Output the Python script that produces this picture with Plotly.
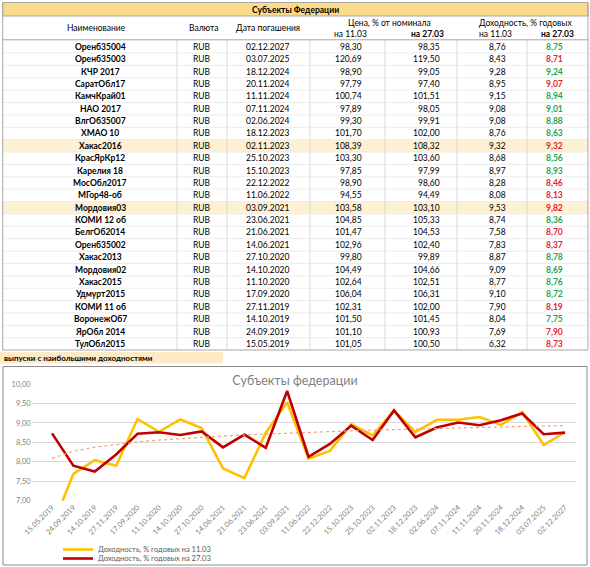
import numpy as np
import plotly.graph_objects as go

# ---------------- data ----------------
names = ["Оренб35004", "Оренб35003", "КЧР 2017", "СаратОбл17", "КамчКрай01", "НАО 2017",
         "ВлгОб35007", "ХМАО 10", "Хакас2016", "КрасЯрКр12", "Карелия 18", "МосОбл2017",
         "МГор48-об", "Мордовия03", "КОМИ 12 об", "БелгОб2014", "Оренб35002", "Хакас2013",
         "Мордовия02", "Хакас2015", "Удмурт2015", "КОМИ 11 об", "ВоронежОб7", "ЯрОбл 2014",
         "ТулОбл2015"]
currency = ["RUB"] * 25
maturity = ["02.12.2027", "03.07.2025", "18.12.2024", "20.11.2024", "11.11.2024", "07.11.2024",
            "02.06.2024", "18.12.2023", "02.11.2023", "25.10.2023", "15.10.2023", "22.12.2022",
            "11.06.2022", "03.09.2021", "23.06.2021", "21.06.2021", "14.06.2021", "27.10.2020",
            "14.10.2020", "11.10.2020", "17.09.2020", "27.11.2019", "14.10.2019", "24.09.2019",
            "15.05.2019"]
price_1103 = [98.30, 120.69, 98.90, 97.79, 100.74, 97.89, 99.30, 101.70, 108.39, 103.30, 97.85,
              98.90, 94.55, 103.58, 104.85, 101.47, 102.96, 99.80, 104.49, 102.64, 106.04,
              102.31, 101.50, 101.10, 101.05]
price_2703 = [98.35, 119.50, 99.05, 97.40, 101.51, 98.05, 99.91, 102.00, 108.32, 103.60, 97.99,
              98.60, 94.49, 103.10, 105.33, 104.53, 102.40, 99.89, 104.66, 102.51, 106.31,
              102.00, 101.45, 100.93, 100.50]
yield_1103 = [8.76, 8.43, 9.28, 8.95, 9.15, 9.08, 9.08, 8.76, 9.32, 8.68, 8.97, 8.28, 8.08, 9.53,
              8.74, 7.58, 7.83, 8.87, 9.09, 8.77, 9.10, 7.90, 8.04, 7.69, 6.32]
yield_2703 = [8.75, 8.71, 9.24, 9.07, 8.94, 9.01, 8.88, 8.63, 9.32, 8.56, 8.93, 8.46, 8.13, 9.82,
              8.36, 8.70, 8.37, 8.78, 8.69, 8.76, 8.72, 8.19, 7.75, 7.90, 8.73]
highlighted = ["Хакас2016", "Мордовия03"]

W, H = 590, 567
FONT = "Lato"


def px(x):
    return x / W


def py(y):
    return 1 - y / H


def fmt(v):
    return f"{v:.2f}".replace(".", ",")


fig = go.Figure()

# ---------------- chart ----------------
cats = maturity[::-1]
y11 = yield_1103[::-1]
y27 = yield_2703[::-1]

fig.add_trace(go.Scatter(x=cats, y=y11, mode="lines", name="Доходность, % годовых на 11.03",
                         line=dict(color="#FFC000", width=2.6), legend="legend"))
fig.add_trace(go.Scatter(x=cats, y=y27, mode="lines", name="Доходность, % годовых на 27.03",
                         line=dict(color="#C00000", width=2.6), legend="legend2"))
# logarithmic trendline of the 27.03 series (as in Excel)
idx = np.arange(1, len(y27) + 1)
b, a = np.polyfit(np.log(idx), np.array(y27), 1)
trend = a + b * np.log(idx)
fig.add_trace(go.Scatter(x=cats, y=trend, mode="lines", showlegend=False, hoverinfo="skip",
                         line=dict(color="#F0A27C", width=1.2, dash="dot")))

leg_common = dict(xanchor="left", yanchor="middle", orientation="v",
                  font=dict(size=7.5, color="#595959", family=FONT), bgcolor="rgba(0,0,0,0)",
                  itemwidth=30, borderwidth=0)

fig.update_layout(
    width=W, height=H, margin=dict(l=0, r=0, t=0, b=0, autoexpand=False),
    paper_bgcolor="white", plot_bgcolor="white",
    separators=", ", hovermode=False,
    font=dict(family=FONT, color="#595959"),
    title=dict(text="Субъекты федерации", x=0.5, xanchor="center", xref="paper",
               y=1 - 381 / H, yref="container", yanchor="middle",
               font=dict(size=12.5, color="#7f7f7f", family=FONT)),
    xaxis=dict(domain=[px(31.7), px(575.7)], range=[-0.95, 24.5], type="category",
               tickangle=-45, tickfont=dict(size=7.5, color="#7f7f7f"),
               showgrid=False, showline=False, ticks="", anchor="y"),
    yaxis=dict(domain=[py(500.7), py(384)], range=[7, 10], dtick=0.5, tickformat=".2f",
               showgrid=True, gridcolor="#d9d9d9", gridwidth=1, zeroline=False,
               tickfont=dict(size=7.5, color="#7f7f7f"), ticks="", showline=False),
    legend=dict(x=px(58), y=py(549.5), **leg_common),
    legend2=dict(x=px(58), y=py(558.5), **leg_common),
)

shapes = []
ann = []


def text(x, y, s, size=8.5, bold=False, color="#000000", anchor="center"):
    ann.append(dict(x=px(x), y=py(y), xref="paper", yref="paper", text=(f"<b>{s}</b>" if bold else s),
                    showarrow=False, xanchor=anchor, yanchor="middle", borderpad=0,
                    font=dict(family=FONT, size=size, color=color)))


def rect(x0, y0, x1, y1, fill, line=None, lw=1):
    shapes.append(dict(type="rect", xref="paper", yref="paper", x0=px(x0), x1=px(x1), y0=py(y1), y1=py(y0),
                       fillcolor=fill, line=dict(color=line or fill, width=lw if line else 0), layer="below"))


def hline(x0, x1, y, color, w=1):
    shapes.append(dict(type="line", xref="paper", yref="paper", x0=px(x0), x1=px(x1), y0=py(y), y1=py(y),
                       line=dict(color=color, width=w), layer="below"))


def vline(x, y0, y1, color, w=1):
    shapes.append(dict(type="line", xref="paper", yref="paper", x0=px(x), x1=px(x), y0=py(y0), y1=py(y1),
                       line=dict(color=color, width=w), layer="below"))


# ---------------- table ----------------
ROW0, RH = 46.8, 12.38
TL, TR = 2.7, 588

rect(TL, 2.5, TR, 16, "#FADB8C", "#A6A6A6", 1)
text(295, 9.5, "Субъекты Федерации", size=8.5, bold=True)

for i, n in enumerate(names):
    if n in highlighted:
        yc = ROW0 + i * RH
        rect(TL, yc - RH / 2, TR, yc + RH / 2, "#FDF0D3")

for i in range(1, len(names)):
    hline(TL, TR, ROW0 + i * RH - RH / 2, "#ececec")

for xv in [177, 227, 310, 385, 457, 527]:
    vline(xv, 39.8, 350, "#d9d9d9")

hline(TL, TR, 39.8, "#A6A6A6")
hline(TL, TR, 350, "#A6A6A6")
vline(TL, 2.5, 350, "#A6A6A6")
vline(TR, 2.5, 350, "#A6A6A6")

text(96, 28.5, "Наименование")
text(204, 28.5, "Валюта")
text(268, 28.5, "Дата погашения")
text(389, 23, "Цена, % от номинала")
text(350, 34.5, "на 11.03")
text(427, 34.5, "на 27.03", bold=True)
text(525, 23, "Доходность, % годовых")
text(495, 34.5, "на 11.03")
text(557, 34.5, "на 27.03", bold=True)

for i in range(len(names)):
    yc = ROW0 + i * RH
    text(100, yc, names[i], bold=True)
    text(202, yc, currency[i])
    text(268, yc, maturity[i])
    text(363, yc, fmt(price_1103[i]), anchor="right")
    text(441, yc, fmt(price_2703[i]), anchor="right")
    text(507, yc, fmt(yield_1103[i]), anchor="right")
    col = "#E3262B" if yield_2703[i] >= yield_1103[i] else "#1FA54F"
    text(564, yc, fmt(yield_2703[i]), anchor="right", bold=True, color=col)

rect(0, 352, 223, 363.5, "#FDEBC8")
text(3, 357.7, "выпуски с наибольшими доходностями", size=8, bold=True, anchor="left")

# chart border
shapes.append(dict(type="rect", xref="paper", yref="paper", x0=px(3), x1=px(587), y0=py(565), y1=py(366.5),
                   line=dict(color="#8c8c8c", width=1), fillcolor="rgba(0,0,0,0)", layer="below"))

fig.update_layout(shapes=shapes, annotations=ann)
fig.write_html("out.html", config={"displayModeBar": False},
               post_script="document.body.style.margin='0';document.body.style.overflow='hidden';")
